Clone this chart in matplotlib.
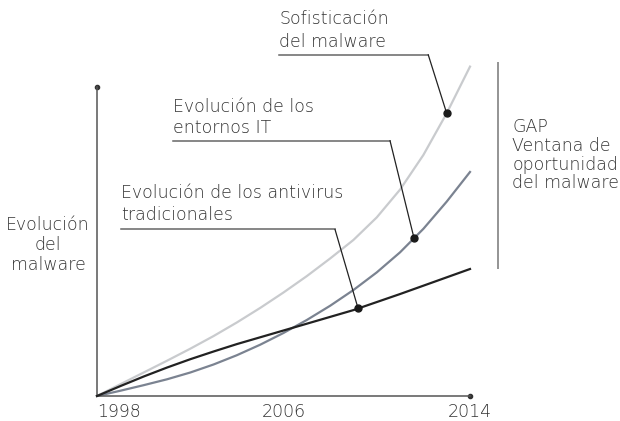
import matplotlib

matplotlib.use("Agg")

import matplotlib.pyplot as plt
import numpy as np

# values (arbitrary units, y axis tops out at 100)
years = np.arange(1998, 2015)
sofisticacion = [0, 3.8, 7.6, 11.4, 15.3, 19.4, 23.8, 28.5, 33.5, 38.8,
                 44.5, 50.5, 57.8, 66.8, 78.0, 91.5, 106.6]
entornos_it = [0, 1.7, 3.5, 5.4, 7.6, 10.2, 13.2, 16.6, 20.4, 24.6,
               29.2, 34.3, 40.0, 46.5, 54.1, 62.9, 72.5]
antivirus = [0, 3.2, 6.3, 9.2, 11.9, 14.4, 16.8, 19.0, 21.2, 23.4,
             25.6, 27.8, 30.4, 33.0, 35.7, 38.4, 41.1]

tick_years = [1998, 2006, 2014]
tick_labels = ["1998", "2006", "2014"]

TEXT = "#333333"
FONT = dict(family="DejaVu Sans", fontsize=12.5, color=TEXT, weight="light")

fig = plt.figure(figsize=(6.2, 4.21), dpi=100)
ax = fig.add_axes([97 / 620, 25 / 421, 373 / 620, 309 / 421])
ax.set_xlim(1998, 2014)
ax.set_ylim(0, 100)

ax.plot(years, sofisticacion, color="#c9cbce", lw=1.6, clip_on=False, zorder=2)
ax.plot(years, entornos_it, color="#7b8391", lw=1.6, clip_on=False, zorder=2)
ax.plot(years, antivirus, color="#222222", lw=1.6, clip_on=False, zorder=3)

# axes: plain lines with a small dot at the ends
for side in ["top", "right"]:
    ax.spines[side].set_visible(False)
for side in ["left", "bottom"]:
    ax.spines[side].set_color("#555555")
    ax.spines[side].set_linewidth(1.1)
ax.plot([1998], [100], "o", color="#333333", ms=3, clip_on=False)
ax.plot([2014], [0], "o", color="#333333", ms=3, clip_on=False)

ax.set_yticks([])
ax.set_xticks(tick_years)
ax.set_xticklabels(tick_labels)
ax.tick_params(axis="x", length=0, pad=5)
for lbl in ax.get_xticklabels():
    lbl.set_fontfamily(FONT["family"])
    lbl.set_fontsize(FONT["fontsize"])
    lbl.set_color(TEXT)
    lbl.set_fontweight("light")
ax.get_xticklabels()[0].set_ha("left")


def callout(lines, x0, y0, step, line_y, line_x1, dot_x, series):
    for i, s in enumerate(lines):
        ax.text(x0, y0 - i * step, s, va="baseline", ha="left", **FONT)
    dot_y = np.interp(dot_x, years, series)
    ax.plot([x0, line_x1], [line_y, line_y], color="#666666", lw=1.1, clip_on=False)
    ax.plot([line_x1, dot_x], [line_y, dot_y], color="#222222", lw=0.9, clip_on=False)
    ax.plot([dot_x], [dot_y], "o", color="#1a1a1a", ms=5, clip_on=False, zorder=5)


callout(["Sofisticación", "del malware"], 2005.81, 120.3, 7.3, 110.4, 2012.21, 2013.0, sofisticacion)
callout(["Evolución de los", "entornos IT"], 2001.27, 92.0, 6.8, 82.6, 2010.57, 2011.6, entornos_it)
callout(["Evolución de los antivirus", "tradicionales"], 1999.05, 64.0, 7.0, 53.9, 2008.21, 2009.2, antivirus)

# y axis title on the left
for i, s in enumerate(["Evolución", "del", "malware"]):
    ax.text(1995.9, 53.7 - i * 6.5, s, va="baseline", ha="center", **FONT)

# the gap between malware and antivirus at the end
ax.vlines(2015.18, antivirus[-1], sofisticacion[-1] + 1.5, color="#777777", lw=1.1, clip_on=False)
for i, s in enumerate(["GAP", "Ventana de", "oportunidad", "del malware"]):
    ax.text(2015.82, 85.4 - i * 6.05, s, va="baseline", ha="left", **FONT)

fig.savefig("out.png", dpi=100)
plt.close(fig)
